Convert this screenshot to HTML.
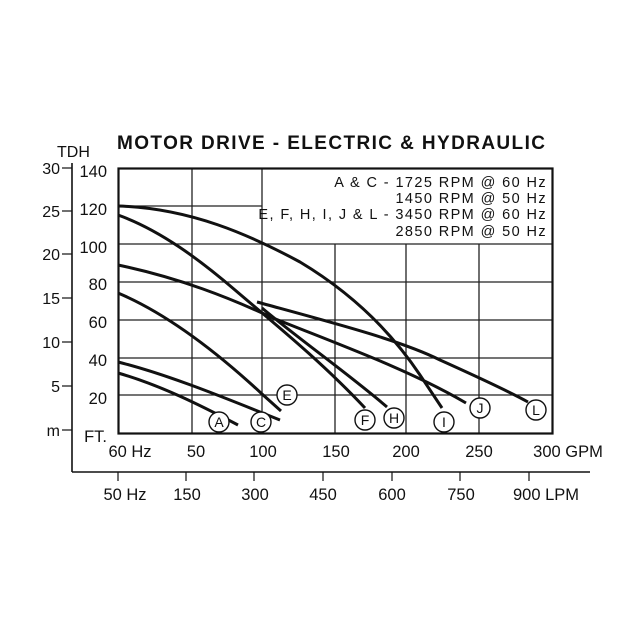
<!DOCTYPE html>
<html><head><meta charset="utf-8"><style>
body{margin:0;background:#fff}
svg{display:block}
text{font-family:"Liberation Sans",Arial,sans-serif;fill:#111}
</style></head><body>
<svg width="633" height="633" viewBox="0 0 633 633" xmlns="http://www.w3.org/2000/svg">
<rect width="633" height="633" fill="#fff"/>
<text x="117" y="149" font-size="19" font-weight="bold" letter-spacing="1.4">MOTOR DRIVE - ELECTRIC &amp; HYDRAULIC</text>
<text x="57" y="157" font-size="16">TDH</text>
<g stroke="#222" stroke-width="1.3">
<line x1="118" y1="206" x2="262" y2="206"/>
<line x1="118" y1="244" x2="552" y2="244"/>
<line x1="118" y1="282" x2="552" y2="282"/>
<line x1="118" y1="320" x2="552" y2="320"/>
<line x1="118" y1="358" x2="552" y2="358"/>
<line x1="118" y1="395" x2="552" y2="395"/>
<line x1="192" y1="168" x2="192" y2="433"/>
<line x1="262" y1="168" x2="262" y2="433"/>
<line x1="335" y1="244" x2="335" y2="433"/>
<line x1="406" y1="244" x2="406" y2="433"/>
<line x1="479" y1="244" x2="479" y2="433"/>
</g>
<rect x="118.5" y="168.5" width="434" height="265" fill="none" stroke="#111" stroke-width="2.2"/>
<g font-size="14.5" text-anchor="end" letter-spacing="1.4">
<text x="547" y="187">A &amp; C - 1725 RPM @ 60 Hz</text>
<text x="547" y="203">1450 RPM @ 50 Hz</text>
<text x="547" y="219">E, F, H, I, J &amp; L - 3450 RPM @ 60 Hz</text>
<text x="547" y="236">2850 RPM @ 50 Hz</text>
</g>
<g font-size="16.5" text-anchor="end">
<text x="107" y="177">140</text>
<text x="107" y="215">120</text>
<text x="107" y="253">100</text>
<text x="107" y="290">80</text>
<text x="107" y="328">60</text>
<text x="107" y="366">40</text>
<text x="107" y="404">20</text>
<text x="107" y="442">FT.</text>
</g>
<line x1="72" y1="163" x2="72" y2="472" stroke="#111" stroke-width="1.6"/>
<line x1="72" y1="472" x2="590" y2="472" stroke="#111" stroke-width="1.6"/>
<g stroke="#111" stroke-width="1.2">
<line x1="62" y1="168" x2="72" y2="168"/><line x1="62" y1="211" x2="72" y2="211"/>
<line x1="62" y1="254" x2="72" y2="254"/><line x1="62" y1="298" x2="72" y2="298"/>
<line x1="62" y1="342" x2="72" y2="342"/><line x1="62" y1="386" x2="72" y2="386"/>
<line x1="62" y1="430" x2="72" y2="430"/>
<line x1="118" y1="472" x2="118" y2="481"/><line x1="186" y1="472" x2="186" y2="481"/>
<line x1="254" y1="472" x2="254" y2="481"/><line x1="323" y1="472" x2="323" y2="481"/>
<line x1="392" y1="472" x2="392" y2="481"/><line x1="460" y1="472" x2="460" y2="481"/>
<line x1="529" y1="472" x2="529" y2="481"/>
</g>
<g font-size="16" text-anchor="end">
<text x="60" y="174">30</text><text x="60" y="217">25</text><text x="60" y="260">20</text>
<text x="60" y="304">15</text><text x="60" y="348">10</text><text x="60" y="392">5</text>
<text x="60" y="436">m</text>
</g>
<g font-size="16.5" text-anchor="middle">
<text x="130" y="457">60 Hz</text><text x="196" y="457">50</text><text x="263" y="457">100</text>
<text x="336" y="457">150</text><text x="406" y="457">200</text><text x="479" y="457">250</text>
<text x="568" y="457">300 GPM</text>
<text x="125" y="500">50 Hz</text><text x="187" y="500">150</text><text x="255" y="500">300</text>
<text x="323" y="500">450</text><text x="392" y="500">600</text><text x="461" y="500">750</text>
<text x="546" y="500">900 LPM</text>
</g>
<g fill="none" stroke="#111" stroke-width="3" stroke-linecap="butt">
<path d="M118,206 C190,208 250,235 300,262 C350,292 390,330 420,375 L442,408"/>
<path d="M118,215 C160,230 200,260 235,290 C270,320 320,360 365,408"/>
<path d="M118,265 C180,278 230,298 273,318 C340,345 410,370 466,403"/>
<path d="M262,308 C300,340 350,375 387,407"/>
<path d="M257,302 C330,322 400,340 440,360 C480,378 510,392 528,402"/>
<path d="M118,293 C170,315 220,355 262,394 L281,411"/>
<path d="M118,362 C170,375 230,400 280,420"/>
<path d="M118,373 C160,385 200,405 238,425"/>
</g>
<g fill="#fff" stroke="#111" stroke-width="1.4">
<circle cx="219" cy="422" r="10"/><circle cx="261" cy="422" r="10"/>
<circle cx="287" cy="395" r="10"/><circle cx="365" cy="420" r="10"/>
<circle cx="394" cy="418" r="10"/><circle cx="444" cy="422" r="10"/>
<circle cx="480" cy="408" r="10"/><circle cx="536" cy="410" r="10"/>
</g>
<g font-size="14" text-anchor="middle">
<text x="219" y="427">A</text><text x="261" y="427">C</text><text x="287" y="400">E</text>
<text x="365" y="425">F</text><text x="394" y="423">H</text><text x="444" y="427">I</text>
<text x="480" y="413">J</text><text x="536" y="415">L</text>
</g>
</svg>
</body></html>
